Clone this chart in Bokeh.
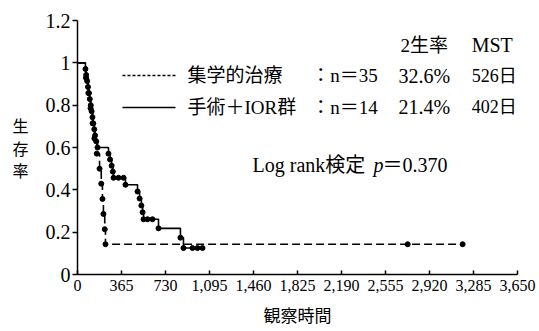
from bokeh.plotting import figure
from bokeh.models import FixedTicker, NumeralTickFormatter, Label
from bokeh.embed import file_html
from bokeh.resources import INLINE

# ---------------- data ----------------
x_ticks = [0, 365, 730, 1095, 1460, 1825, 2190, 2555, 2920, 3285, 3650]
y_ticks = [0, 0.2, 0.4, 0.6, 0.8, 1, 1.2]
y_tick_labels = ["0", "0.2", "0.4", "0.6", "0.8", "1", "1.2"]

# solid curve (step survival), event days and survival after each event
solid_event_days = [66, 72, 80, 87, 95, 102, 110, 117, 124, 131, 139, 146, 155, 166,
                    257, 270, 283, 293, 299, 398, 498, 515, 530, 540, 548, 672, 854, 879]
solid_event_surv = [0.971, 0.943, 0.914, 0.886, 0.857, 0.829, 0.800, 0.771, 0.743, 0.714,
                    0.686, 0.657, 0.629, 0.600, 0.571, 0.543, 0.514, 0.486, 0.457, 0.424,
                    0.392, 0.359, 0.326, 0.294, 0.261, 0.218, 0.174, 0.125]
solid_censor_days = [340, 382, 581, 622, 954, 995, 1037]
solid_censor_surv = [0.457, 0.457, 0.261, 0.261, 0.125, 0.125, 0.125]
solid_end_day = 1037

# dashed curve
dash_event_days = [70, 90, 108, 125, 140, 160, 183, 197, 207, 215, 226, 232]
dash_event_surv = [0.929, 0.857, 0.786, 0.714, 0.643, 0.571, 0.500, 0.429, 0.357,
                   0.286, 0.214, 0.143]
dash_censor_days = [2739, 3195]
dash_censor_surv = [0.143, 0.143]
dash_end_day = 3195

# table / legend texts
table_header = ["2生率", "MST"]
group_names = ["集学的治療", "手術＋IOR群"]
group_n = ["：n＝35", "：n＝14"]
two_year_rate = ["32.6%", "21.4%"]
mst_days = ["526日", "402日"]
logrank_label = "Log rank検定"
logrank_p = "＝0.370"
x_title = "観察時間"
y_title = "生\n存\n率"

# ---------------- styles / layout ----------------
SERIF = "Liberation Serif"
MIXED = "'Liberation Serif', 'Noto Sans CJK JP'"
CJK = "Noto Sans CJK JP"

p = figure(width=539, height=331, x_range=(0, 3650), y_range=(0, 1.2),
           output_backend="svg", toolbar_location=None,
           min_border_left=77, min_border_right=22, min_border_top=20, min_border_bottom=57)
p.background_fill_color = "white"
p.border_fill_color = "white"
p.outline_line_color = None
p.xgrid.visible = False
p.ygrid.visible = False

xa = p.xaxis[0]
xa.ticker = FixedTicker(ticks=x_ticks)
xa.formatter = NumeralTickFormatter(format="0,0")
xa.major_tick_in = 4
xa.major_tick_out = 0
xa.minor_tick_line_color = None
xa.axis_line_width = 1.5
xa.major_tick_line_width = 1.5
xa.major_label_text_font = SERIF
xa.major_label_text_font_size = "16px"
xa.major_label_text_color = "black"
xa.major_label_standoff = 5
xa.axis_label = x_title
xa.axis_label_text_font = CJK
xa.axis_label_text_font_size = "17px"
xa.axis_label_text_font_style = "normal"
xa.axis_label_text_color = "black"
xa.axis_label_standoff = 8

ya = p.yaxis[0]
ya.ticker = FixedTicker(ticks=y_ticks)
ya.major_label_overrides = dict(zip(y_ticks, y_tick_labels))
ya.major_tick_in = 0
ya.major_tick_out = 5
ya.minor_tick_line_color = None
ya.axis_line_width = 1.5
ya.major_tick_line_width = 1.5
ya.major_label_text_font = SERIF
ya.major_label_text_font_size = "20px"
ya.major_label_text_color = "black"
ya.major_label_standoff = 2
ya.axis_label = y_title
ya.axis_label_orientation = "horizontal"
ya.axis_label_text_font = CJK
ya.axis_label_text_font_size = "16px"
ya.axis_label_text_font_style = "normal"
ya.axis_label_text_color = "black"
ya.axis_label_text_line_height = 0.95
ya.axis_label_standoff = 14

# curves
sx = [0] + solid_event_days + [solid_end_day]
sy = [1.0] + solid_event_surv + [solid_event_surv[-1]]
p.step(sx, sy, mode="after", line_color="black", line_width=1.6)
p.scatter(solid_event_days + solid_censor_days, solid_event_surv + solid_censor_surv,
          size=5, color="black")

dx = [0] + dash_event_days + [dash_end_day]
dy = [1.0] + dash_event_surv + [dash_event_surv[-1]]
p.step(dx, dy, mode="after", line_color="black", line_width=1.6, line_dash="8 4")
p.scatter(dash_event_days + dash_censor_days, dash_event_surv + dash_censor_surv,
          size=5, color="black")

# legend samples (positions in data units)
ROW_Y = [0.940, 0.789]
SAMPLE_X0, SAMPLE_X1 = 373, 813
p.line([SAMPLE_X0, SAMPLE_X1], [ROW_Y[0], ROW_Y[0]], line_color="black",
       line_width=1.5, line_dash="3 2")
p.line([SAMPLE_X0, SAMPLE_X1], [ROW_Y[1], ROW_Y[1]], line_color="black", line_width=1.5)


def lab(x, y, text, size, font=MIXED, style="normal", align="left"):
    p.add_layout(Label(x=x, y=y, text=text, text_font=font, text_font_size=size,
                       text_font_style=style, text_align=align, text_baseline="middle",
                       text_color="black"))


HEADER_Y = 1.082
MST_X = 3270
lab(2679, HEADER_Y, table_header[0], "19px")
lab(MST_X, HEADER_Y, table_header[1], "20px", font=SERIF)
for i in range(2):
    lab(912, ROW_Y[i], group_names[i], "19px")
    lab(1940, ROW_Y[i], group_n[i], "19px")
    lab(2663, ROW_Y[i], two_year_rate[i], "20px", font=SERIF)
    lab(MST_X, ROW_Y[i], mst_days[i], "18px")

LR_Y = 0.515
lab(1452, LR_Y, logrank_label, "20px")
lab(2455, LR_Y, "p", "20px", font=SERIF, style="italic")
lab(2530, LR_Y, logrank_p, "20px")

open("out.html", "w").write(file_html(p, INLINE))
